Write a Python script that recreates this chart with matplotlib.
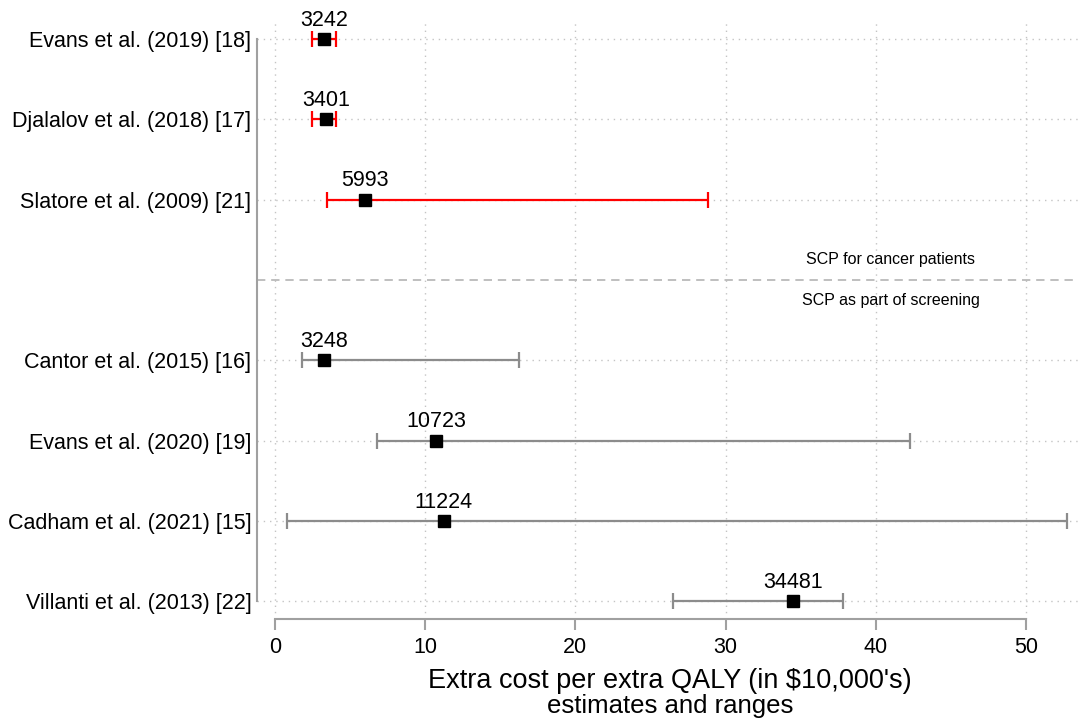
import matplotlib
matplotlib.use("Agg")
import matplotlib.pyplot as plt

plt.rcParams['font.family'] = ['Liberation Sans', 'DejaVu Sans']

studies = ["Evans et al. (2019) [18]", "Djalalov et al. (2018) [17]", "Slatore et al. (2009) [21]",
           "Cantor et al. (2015) [16]", "Evans et al. (2020) [19]", "Cadham et al. (2021) [15]",
           "Villanti et al. (2013) [22]"]
rows = [1, 2, 3, 5, 6, 7, 8]
estimates = [3.242, 3.401, 5.993, 3.248, 10.723, 11.224, 34.481]
value_labels = ["3242", "3401", "5993", "3248", "10723", "11224", "34481"]
lows = [2.44, 2.44, 3.48, 1.82, 6.79, 0.82, 26.5]
highs = [4.06, 4.06, 28.8, 16.25, 42.3, 52.75, 37.8]
groups = ["cancer", "cancer", "cancer", "screen", "screen", "screen", "screen"]
group_colors = {"cancer": "#ff0000", "screen": "#8c8c8c"}
xticks = [0, 10, 20, 30, 40, 50]

fig = plt.figure(figsize=(10.8, 7.2), dpi=100)
ax = fig.add_axes([257/1080, (720-619)/720, (1078-257)/1080, (619-22)/720])

for r, est, lo, hi, g, lab in zip(rows, estimates, lows, highs, groups, value_labels):
    c = group_colors[g]
    ax.errorbar([est], [r], xerr=[[est - lo], [hi - est]], fmt='none', ecolor=c,
                elinewidth=1.6, capsize=5.5, capthick=1.6, zorder=3)
    ax.plot([est], [r], marker='s', color='black', markersize=9.3, linestyle='none', zorder=4)
    ax.annotate(lab, (est, r), xytext=(0, 13.5), textcoords='offset points',
                ha='center', va='center', fontsize=15.5, color='black', zorder=5)

ax.axhline(4, color='#b4b4b4', linestyle=(0, (5, 3.5)), linewidth=1.2, zorder=2)
ax.text(41, 3.75, "SCP for cancer patients", ha='center', va='center', fontsize=11.5)
ax.text(41, 4.26, "SCP as part of screening", ha='center', va='center', fontsize=11.5)

ax.set_xlim(-1.2, 53.46)
ax.set_ylim(8.22, 0.79)
ax.set_xticks(xticks)
ax.set_xticklabels([str(t) for t in xticks], fontsize=15.5)
ax.set_yticks(rows)
ax.set_yticklabels(studies, fontsize=15.5)

for t in xticks:
    ax.axvline(t, color='#c4c4c4', linestyle=(0, (1, 3.5)), linewidth=1.0, zorder=1)
for r in rows:
    ax.axhline(r, color='#c4c4c4', linestyle=(0, (1, 3.5)), linewidth=1.0, zorder=1)

for s in ['top', 'right']:
    ax.spines[s].set_visible(False)
ax.spines['left'].set_bounds(1, 8)
ax.spines['bottom'].set_bounds(0, 50)
for s in ['left', 'bottom']:
    ax.spines[s].set_color('#a0a0a0')
    ax.spines[s].set_linewidth(1.5)
ax.tick_params(axis='y', length=0, pad=4)
ax.tick_params(axis='x', length=8, width=1.5, color='#a0a0a0', pad=5)

fig.text(670/1080, 1 - 681/720, "Extra cost per extra QALY (in $10,000's)", ha='center', va='center', fontsize=19.5)
fig.text(670/1080, 1 - 706/720, "estimates and ranges", ha='center', va='center', fontsize=18.5)

fig.savefig("out.png", dpi=100)
